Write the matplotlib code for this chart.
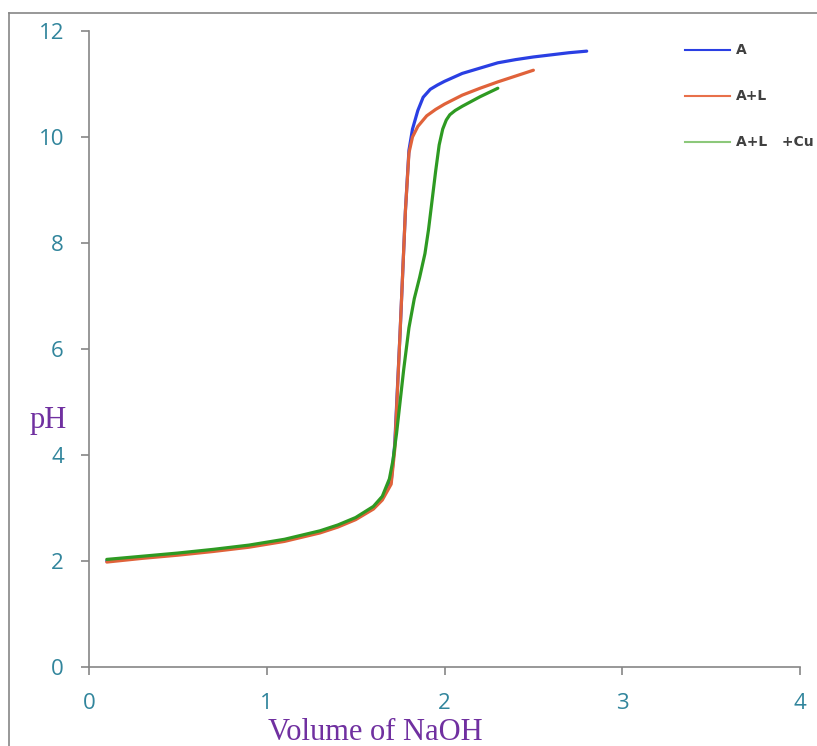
import matplotlib.pyplot as plt
from matplotlib.lines import Line2D

# titration curves
a_x = [0.1, 0.3, 0.5, 0.7, 0.9, 1.1, 1.3, 1.4, 1.5, 1.6, 1.65, 1.7, 1.72, 1.75, 1.78,
       1.8, 1.82, 1.85, 1.88, 1.92, 1.96, 2.0, 2.1, 2.2, 2.3, 2.4, 2.5, 2.6, 2.7, 2.8]
a_y = [2.0, 2.07, 2.13, 2.2, 2.28, 2.39, 2.55, 2.66, 2.8, 3.0, 3.2, 3.5, 4.2, 6.3, 8.6,
       9.75, 10.15, 10.5, 10.75, 10.9, 10.98, 11.05, 11.2, 11.3, 11.4, 11.46, 11.51, 11.55,
       11.59, 11.62]

al_x = [0.1, 0.3, 0.5, 0.7, 0.9, 1.1, 1.3, 1.4, 1.5, 1.6, 1.65, 1.7, 1.72, 1.75, 1.78,
        1.8, 1.82, 1.85, 1.9, 1.95, 2.0, 2.1, 2.2, 2.3, 2.4, 2.5]
al_y = [1.98, 2.05, 2.11, 2.18, 2.26, 2.37, 2.53, 2.64, 2.78, 2.98, 3.15, 3.45, 4.1, 6.3, 8.6,
        9.7, 10.0, 10.2, 10.4, 10.52, 10.62, 10.79, 10.92, 11.04, 11.15, 11.26]

alc_x = [0.1, 0.3, 0.5, 0.7, 0.9, 1.1, 1.3, 1.4, 1.5, 1.6, 1.65, 1.69, 1.71, 1.73, 1.75,
         1.77, 1.8, 1.83, 1.86, 1.89, 1.91, 1.93, 1.95, 1.97, 1.99, 2.01, 2.03, 2.06, 2.1,
         2.2, 2.3]
alc_y = [2.03, 2.09, 2.15, 2.22, 2.3, 2.41, 2.57, 2.68, 2.82, 3.03, 3.22, 3.55, 3.9, 4.4, 5.0,
         5.6, 6.4, 6.95, 7.35, 7.8, 8.25, 8.8, 9.35, 9.85, 10.15, 10.32, 10.42, 10.5, 10.58,
         10.76, 10.92]

labels = ['A', 'A+L', 'A+L   +Cu']
x_ticks = [0, 1, 2, 3, 4]
y_ticks = [0, 2, 4, 6, 8, 10, 12]

blue = '#2a3fe3'
orange = '#e0623a'
green = '#2e9a22'
tick_col = '#31859c'
label_col = '#7030a0'
axis_col = '#868686'

fig = plt.figure(figsize=(8.17, 7.46), dpi=100)
ax = fig.add_axes([89 / 817, 79 / 746, 711 / 817, 636 / 746])

ax.plot(a_x, a_y, color=blue, lw=2.3, solid_capstyle='round', solid_joinstyle='round')
ax.plot(al_x, al_y, color=orange, lw=2.3, solid_capstyle='round', solid_joinstyle='round')
ax.plot(alc_x, alc_y, color=green, lw=2.3, solid_capstyle='round', solid_joinstyle='round')

ax.set_xlim(0, 4)
ax.set_ylim(0, 12)
ax.set_xticks(x_ticks)
ax.set_yticks(y_ticks)
for s in ['top', 'right']:
    ax.spines[s].set_visible(False)
for s in ['left', 'bottom']:
    ax.spines[s].set_color(axis_col)
    ax.spines[s].set_linewidth(1.2)
ax.tick_params(direction='out', length=6, width=1.2, color=axis_col,
               labelcolor=tick_col, labelsize=16)
ax.tick_params(axis='x', pad=13)
ax.tick_params(axis='y', pad=12)
for t in ax.get_xticklabels() + ax.get_yticklabels():
    t.set_fontfamily('Open Sans')

fig.text(268 / 817, 6 / 746, 'Volume of NaOH', family='Liberation Serif',
         fontsize=22, color=label_col, ha='left', va='baseline')
fig.text(48 / 817, 1 - 420 / 746, 'pH', family='Liberation Serif',
         fontsize=22, color=label_col, ha='center', va='center')

handles = [Line2D([], [], color=blue, lw=1.5),
           Line2D([], [], color='#e8704a', lw=1.5),
           Line2D([], [], color='#8cc87a', lw=1.5)]
leg = fig.legend(handles, labels, loc='upper left',
                 bbox_to_anchor=(672 / 817, 1 - 31 / 746), frameon=False,
                 fontsize=10, handlelength=3.3, handletextpad=0.4, labelspacing=2.3)
for t in leg.get_texts():
    t.set_color('#404040')
    t.set_fontweight('bold')

# outer chart frame, cropped on the right and bottom
fig.add_artist(Line2D([9 / 817, 9 / 817], [0, 1 - 13 / 746], color=axis_col, lw=1.2))
fig.add_artist(Line2D([9 / 817, 1], [1 - 13 / 746, 1 - 13 / 746], color=axis_col, lw=1.2))

fig.savefig('out.png', dpi=100)
